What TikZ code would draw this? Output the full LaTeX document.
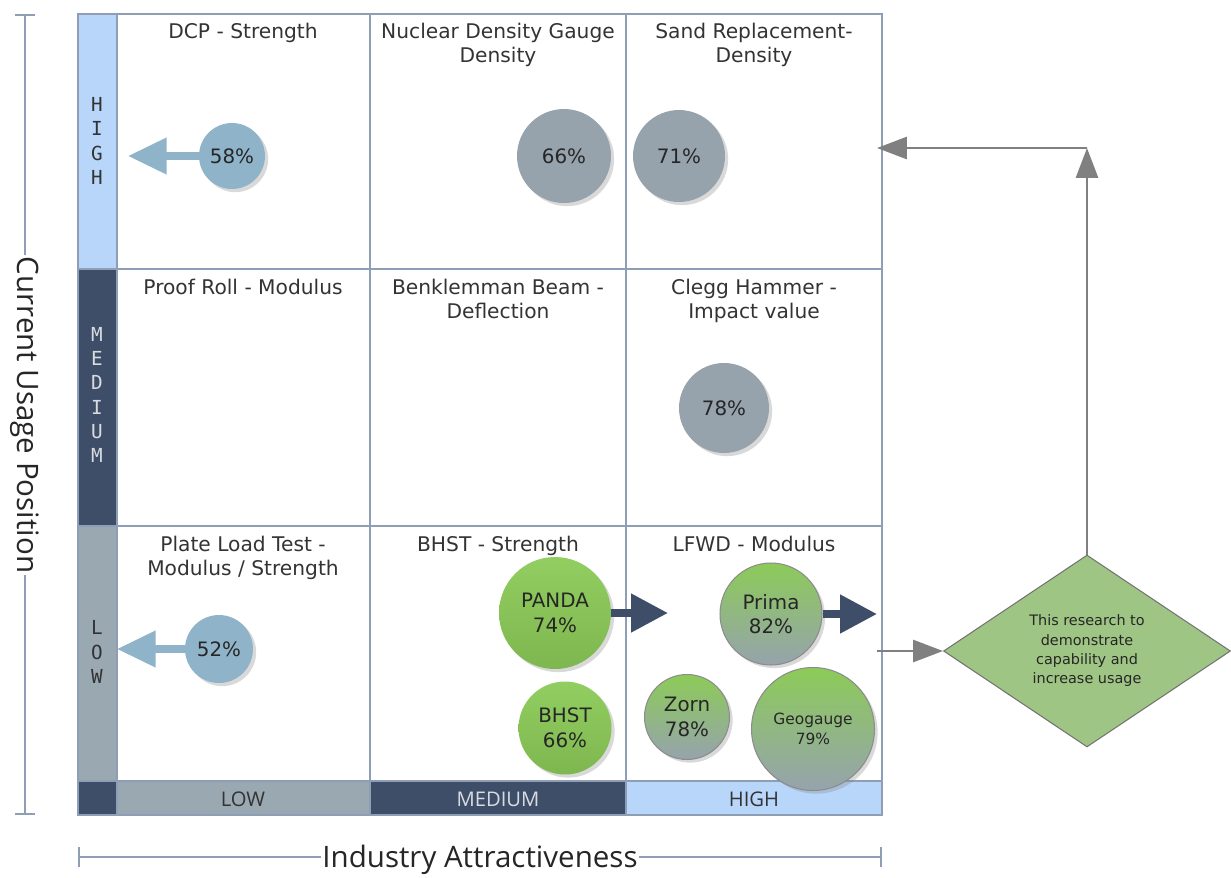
\documentclass[tikz,border=0pt]{standalone}
\usepackage{fontspec}
\setmainfont{DejaVu Sans}
\newfontfamily\axisfont{Open Sans}
\newfontfamily\letterfont{DejaVu Sans Mono}
\usepackage{tikz}
\usetikzlibrary{arrows.meta}
\usetikzlibrary{shapes.geometric}
\usetikzlibrary{shadows}

\definecolor{paleblue}{HTML}{B8D6FA}
\definecolor{navy}{HTML}{3E4E69}
\definecolor{slate}{HTML}{9AA8B2}
\definecolor{gridline}{HTML}{8E9EB4}
\definecolor{bluecirc}{HTML}{8FB4CA}
\definecolor{graycirc}{HTML}{96A3AD}
\definecolor{greencirc}{HTML}{8CCB58}
\definecolor{diamondgreen}{HTML}{9FC585}
\definecolor{darktext}{HTML}{333333}

\begin{document}
\begin{tikzpicture}[x=0.02cm, y=-0.02cm,
    cell/.style={draw=gridline, line width=1.1pt},
    title/.style={anchor=north, inner sep=0pt, align=center, text=darktext, font=\fontsize{11.5}{13.6}\selectfont},
    rowtag/.style={inner sep=0pt, align=center, font=\letterfont\fontsize{11}{13.8}\selectfont},
    coltag/.style={inner sep=0pt, font=\axisfont\fontsize{11.5}{13}\selectfont},
    bubble/.style={circle, inner sep=0pt, align=center, text=black!85, font=\fontsize{11.3}{14}\selectfont,
        drop shadow={shadow xshift=1.8pt, shadow yshift=-1.8pt, opacity=0.3}},
    mixbubble/.style={bubble, draw=black!45, line width=0.6pt, top color=greencirc, bottom color=graycirc},
    bluearrow/.style={draw=bluecirc, line width=4pt, -{Triangle[length=22pt, width=20pt]}},
    navyarrow/.style={draw=navy, line width=4.5pt, -{Triangle[length=21pt, width=21pt]}},
    flow/.style={draw=black!50, line width=1.6pt, -{Triangle[length=17pt, width=12.5pt]}},
    axisline/.style={draw=gridline, line width=0.9pt, {Bar[width=11pt]}-{Bar[width=11pt]}}
]
    \useasboundingbox (0,0) rectangle (1231,877);

    % coloured bands
    \fill[paleblue] (78,14) rectangle (117,269);
    \fill[navy] (78,269) rectangle (117,526);
    \fill[slate] (78,526) rectangle (117,781);
    \fill[navy] (78,781) rectangle (117,815);
    \fill[slate] (117,781) rectangle (370,815);
    \fill[navy] (370,781) rectangle (626,815);
    \fill[paleblue] (626,781) rectangle (882,815);

    % grid
    \draw[cell] (78,14) rectangle (882,815);
    \draw[cell] (117,14) -- (117,815);
    \draw[cell] (370,14) -- (370,815);
    \draw[cell] (626,14) -- (626,815);
    \draw[cell] (78,269) -- (882,269);
    \draw[cell] (78,526) -- (882,526);
    \draw[cell] (78,781) -- (882,781);

    \node[rowtag, text=darktext] (rowHigh) at (97,141) {H\\I\\G\\H};
    \node[rowtag, text=white!80!navy] (rowMed) at (97,395) {M\\E\\D\\I\\U\\M};
    \node[rowtag, text=darktext] (rowLow) at (97,652) {L\\O\\W};
    \node[coltag, text=darktext] (colLow) at (243,799) {LOW};
    \node[coltag, text=white!80!navy] (colMed) at (498,799) {MEDIUM};
    \node[coltag, text=darktext] (colHigh) at (754,799) {HIGH};

    % cell titles
    \node[title] (dcp) at (243,23) {DCP - Strength};
    \node[title] (nuclear) at (498,23) {Nuclear Density Gauge\\Density};
    \node[title] (sand) at (754,23) {Sand Replacement-\\Density};
    \node[title] (proof) at (243,279) {Proof Roll - Modulus};
    \node[title] (benk) at (498,279) {Benklemman Beam -\\Deflection};
    \node[title] (clegg) at (754,279) {Clegg Hammer -\\Impact value};
    \node[title] (plate) at (243,536) {Plate Load Test -\\Modulus / Strength};
    \node[title] (bhstT) at (498,536) {BHST - Strength};
    \node[title] (lfwd) at (754,536) {LFWD - Modulus};

    % bubbles
    \node[bubble, fill=bluecirc, minimum size=1.32cm] (c58) at (232,156) {58\%};
    \node[bubble, fill=graycirc, minimum size=1.88cm] (c66) at (564,156) {66\%};
    \node[bubble, fill=graycirc, minimum size=1.84cm] (c71) at (679,156) {71\%};
    \node[bubble, fill=graycirc, minimum size=1.8cm] (c78) at (724,408) {78\%};
    \node[bubble, fill=bluecirc, minimum size=1.36cm] (c52) at (219,649) {52\%};
    \node[bubble, top color=greencirc!95!white, bottom color=greencirc!90!black, minimum size=2.24cm] (panda) at (555,613) {PANDA\\74\%};
    \node[bubble, top color=greencirc!95!white, bottom color=greencirc!90!black, minimum size=1.86cm] (bhst) at (565,728) {BHST\\66\%};
    \node[mixbubble, minimum size=2.04cm] (prima) at (771,614) {Prima\\82\%};
    \node[mixbubble, minimum size=1.7cm] (zorn) at (687,717) {Zorn\\78\%};
    \node[mixbubble, minimum size=2.46cm, font=\fontsize{8.8}{11}\selectfont] (geo) at (813,729) {Geogauge\\79\%};

    \coordinate (tip58) at (128,156);
    \coordinate (tip52) at (117,649);
    \coordinate (tipPanda) at (668,613);
    \coordinate (tipPrima) at (877,614);
    \draw[bluearrow] (c58.west) -- (tip58);
    \draw[bluearrow] (c52.west) -- (tip52);
    \draw[navyarrow] (panda.east) -- (tipPanda);
    \draw[navyarrow] (prima.east) -- (tipPrima);

    % research diamond and feedback
    \node[diamond, draw=black!55, fill=diamondgreen, line width=0.6pt, minimum width=5.74cm, minimum height=3.84cm,
        inner sep=0pt, align=center, text=black!85, font=\fontsize{8.2}{11}\selectfont] (goal) at (1087,651)
        {This research to\\demonstrate\\capability and\\increase usage};
    \coordinate (feedIn) at (877,651);
    \coordinate (turn) at (1087,148);
    \coordinate (backIn) at (877,148);
    \draw[flow] (feedIn) -- (goal.west);
    \draw[flow] (goal.north) -- (turn);
    \draw[flow] (turn) -- (backIn);

    % axes
    \coordinate (yTop) at (25,14);
    \coordinate (yBot) at (25,815);
    \coordinate (xLeft) at (78,857);
    \coordinate (xRight) at (882,857);
    \draw[axisline] (yTop) -- (yBot);
    \draw[axisline] (xLeft) -- (xRight);
    \node[fill=white, inner sep=1pt, rotate=-90, text=black!85, font=\axisfont\fontsize{16.8}{20}\selectfont] (usage) at (25,415) {Current Usage Position};
    \node[fill=white, inner sep=1pt, text=black!85, font=\axisfont\fontsize{16.8}{20}\selectfont] (attract) at (480,860) {Industry Attractiveness};
\end{tikzpicture}
\end{document}
